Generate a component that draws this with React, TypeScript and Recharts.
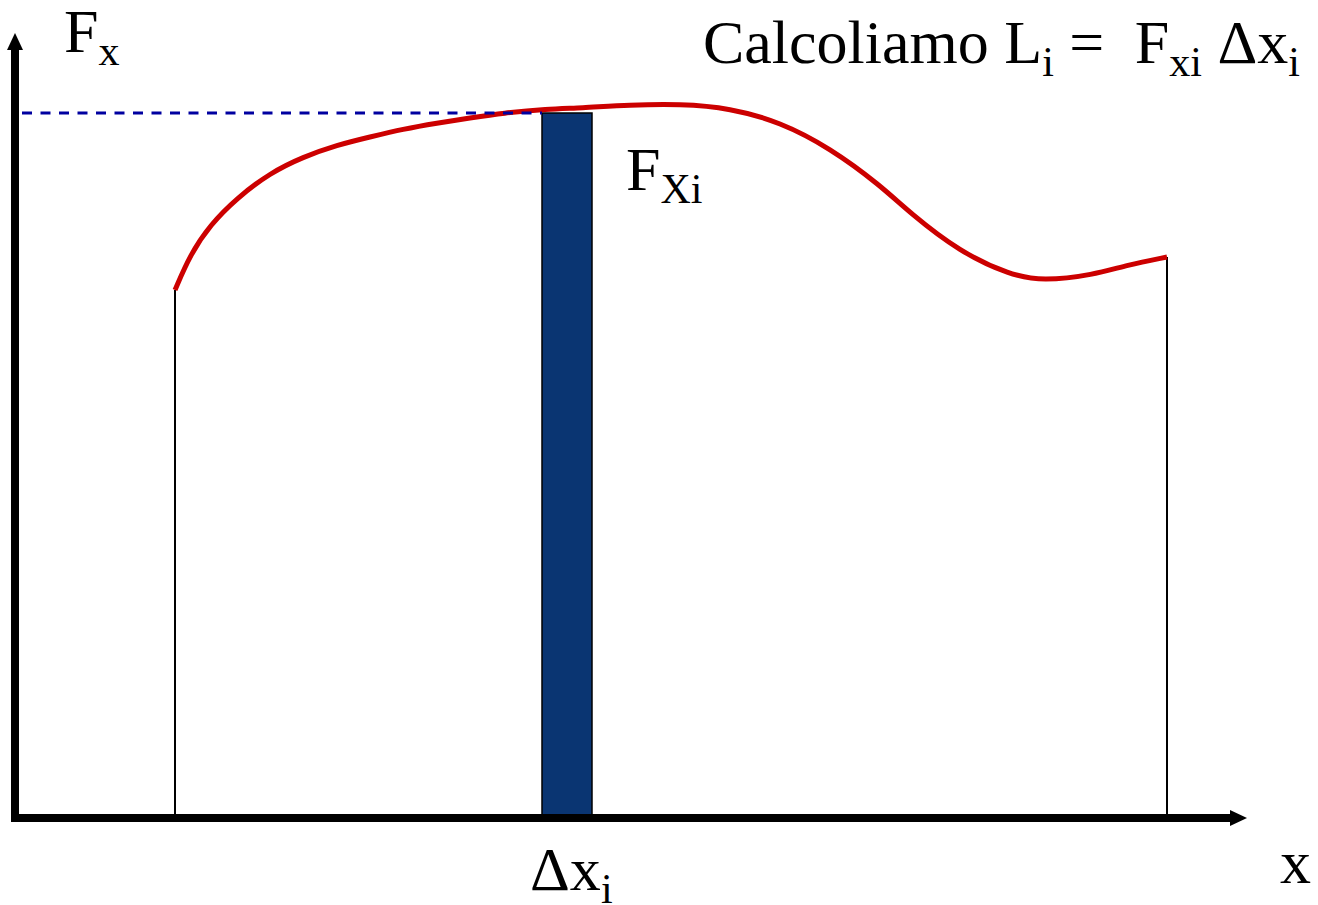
import {
  ComposedChart,
  Line,
  XAxis,
  YAxis,
  ReferenceLine,
  ReferenceArea,
  ReferenceDot,
  Customized,
} from 'recharts'

// curve F(x), sampled along the path
const curveX = [
  1.6, 1.75, 1.95, 2.22, 2.55, 2.88, 3.22, 3.55, 3.88, 4.22, 4.55, 4.88, 5.32, 5.65, 6.15, 6.65,
  7.15, 7.65, 8.15, 8.65, 8.95, 9.45, 9.95, 10.28, 10.78, 11.12, 11.52,
]
const curveF = [
  5.28, 5.63, 5.93, 6.2, 6.45, 6.61, 6.73, 6.81, 6.89, 6.95, 7.0, 7.05, 7.09, 7.1, 7.13, 7.14,
  7.1, 6.96, 6.7, 6.33, 6.05, 5.66, 5.43, 5.37, 5.43, 5.53, 5.61,
]

// the slice Δx_i and its height F_xi
const sliceStart = 5.27
const sliceEnd = 5.77
const sliceHeight = 7.05

const xMax = 12.32
const yMax = 7.85

const data = curveX.map((x, i) => ({ x, f: curveF[i] }))

const serif = '"Liberation Serif", "Times New Roman", serif'
const big = 62
const small = 42
const drop = 13

const textStyle = { fontFamily: serif, fill: '#000' }

function Labels() {
  return (
    <g>
      <text x={64} y={52} fontSize={big} style={textStyle}>
        F
        <tspan dy={drop} fontSize={small}>x</tspan>
      </text>
      <text x={1300} y={63} fontSize={big} textAnchor="end" style={textStyle}>
        Calcoliamo L
        <tspan dy={drop} fontSize={small}>i</tspan>
        <tspan dy={-drop}> =</tspan>
        <tspan dx={15}> F</tspan>
        <tspan dy={drop} fontSize={small}>xi</tspan>
        <tspan dy={-drop}> Δx</tspan>
        <tspan dy={drop} fontSize={small}>i</tspan>
      </text>
      <text x={626} y={190} fontSize={big} style={textStyle}>
        F
        <tspan dy={drop} fontSize={small}>Xi</tspan>
      </text>
      <text x={530} y={890} fontSize={big} style={textStyle}>
        Δx
        <tspan dy={drop} fontSize={small}>i</tspan>
      </text>
      <text x={1280} y={883} fontSize={big} style={textStyle}>
        x
      </text>
    </g>
  )
}

const upArrow = (p: any) => (
  <polygon points={`${p.cx},${p.cy} ${p.cx - 8},${p.cy + 17} ${p.cx + 8},${p.cy + 17}`} fill="#000" />
)
const rightArrow = (p: any) => (
  <polygon points={`${p.cx},${p.cy} ${p.cx - 17},${p.cy - 8} ${p.cx - 17},${p.cy + 8}`} fill="#000" />
)

export default function App() {
  return (
    <div style={{ position: 'absolute', left: 0, top: 0, background: '#fff' }}>
      <ComposedChart
        width={1318}
        height={905}
        data={data}
        margin={{ top: 33, right: 1318 - 15 - 1232, bottom: 87, left: 15 }}
      >
        <XAxis type="number" dataKey="x" domain={[0, xMax]} hide />
        <YAxis type="number" domain={[0, yMax]} hide />

        <ReferenceArea
          x1={sliceStart}
          x2={sliceEnd}
          y1={0}
          y2={sliceHeight}
          fill="#0a3572"
          fillOpacity={1}
          stroke="#000"
          strokeWidth={1.5}
        />
        <ReferenceLine
          segment={[{ x: curveX[0], y: 0 }, { x: curveX[0], y: curveF[0] }]}
          stroke="#000"
          strokeWidth={2}
        />
        <ReferenceLine
          segment={[
            { x: curveX[curveX.length - 1], y: 0 },
            { x: curveX[curveX.length - 1], y: curveF[curveF.length - 1] },
          ]}
          stroke="#000"
          strokeWidth={2}
        />

        <Line
          type="basis"
          dataKey="f"
          stroke="#cc0000"
          strokeWidth={5}
          dot={false}
          isAnimationActive={false}
        />

        <ReferenceLine
          segment={[{ x: 0.07, y: sliceHeight }, { x: sliceStart, y: sliceHeight }]}
          stroke="#0000a0"
          strokeWidth={3}
          strokeDasharray="10 8.5"
        />

        {/* axes with arrow heads */}
        <ReferenceLine
          segment={[{ x: -0.04, y: 0 }, { x: xMax - 0.17, y: 0 }]}
          stroke="#000"
          strokeWidth={8}
          ifOverflow="visible"
        />
        <ReferenceLine
          segment={[{ x: 0, y: -0.04 }, { x: 0, y: yMax - 0.16 }]}
          stroke="#000"
          strokeWidth={8}
          ifOverflow="visible"
        />
        <ReferenceDot x={0} y={yMax} r={0} shape={upArrow} ifOverflow="visible" />
        <ReferenceDot x={xMax} y={0} r={0} shape={rightArrow} ifOverflow="visible" />

        <Customized component={Labels} />
      </ComposedChart>
    </div>
  )
}
